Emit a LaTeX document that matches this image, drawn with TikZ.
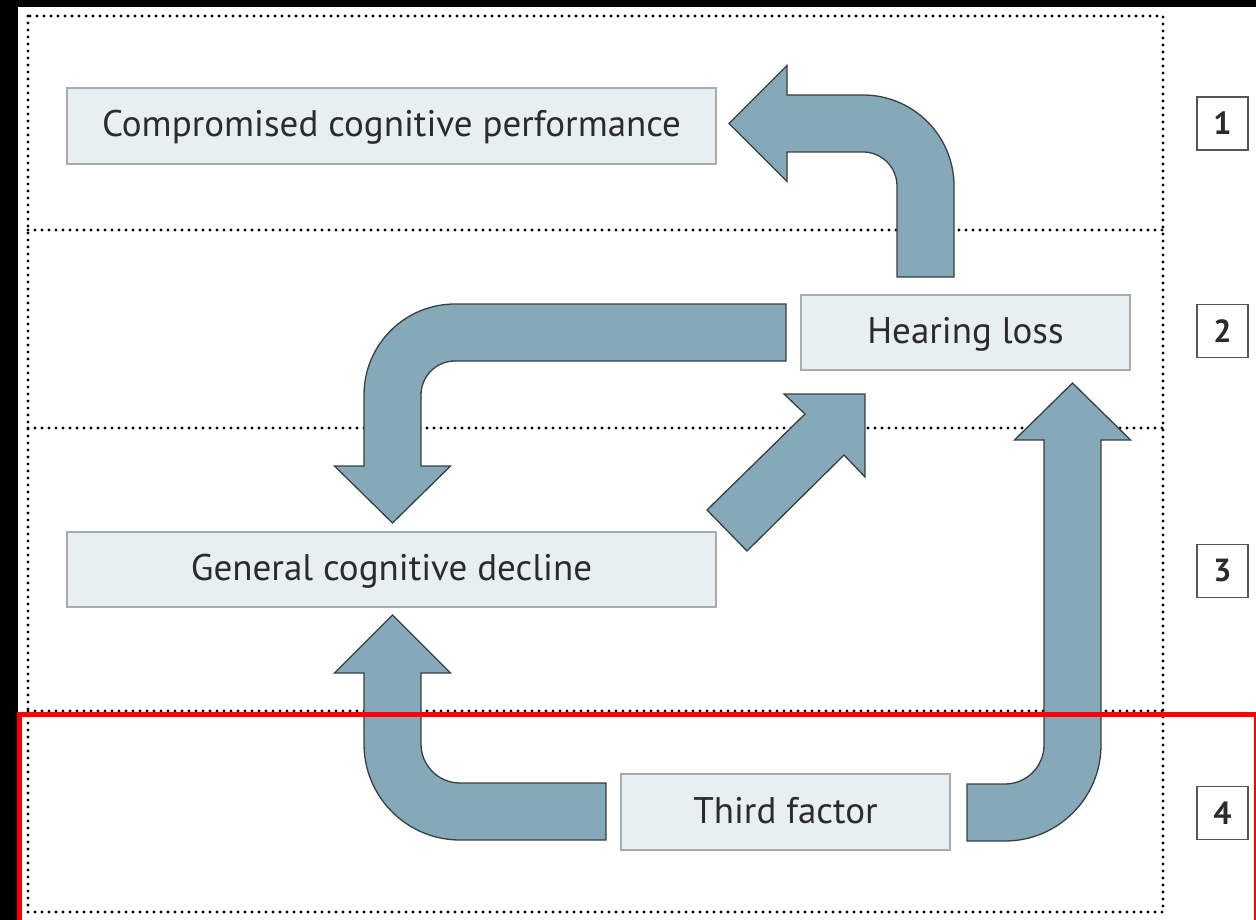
\documentclass[tikz,border=0pt]{standalone}
\usepackage{fontspec}
\setmainfont{PT Sans}
\definecolor{boxfill}{HTML}{E8EFF3}
\definecolor{boxline}{HTML}{A7ACAF}
\definecolor{arrfill}{HTML}{85A9B8}
\definecolor{arrline}{HTML}{3A3F42}
\definecolor{txt}{HTML}{2B2B2B}
\definecolor{numline}{HTML}{555555}
\begin{document}
\begin{tikzpicture}[x=1pt,y=-1pt,
  txtbox/.style={draw=boxline, fill=boxfill, line width=1.5pt, text=txt,
    font=\fontsize{37}{39}\selectfont, inner sep=0pt, text height=30pt, text depth=8pt},
  numbox/.style={draw=numline, line width=1.5pt, fill=white, text=txt,
    minimum width=51pt, minimum height=53pt, inner sep=0pt,
    font=\bfseries\fontsize{32}{34}\selectfont},
  bigarrow/.style={fill=arrfill, draw=arrline, line width=1.3pt, line join=miter},
  divider/.style={draw=black, line width=3.2pt, line cap=round, dash pattern=on 0pt off 7pt}]
\useasboundingbox (0,0) rectangle (1256,920);
\clip (0,0) rectangle (1256,920);
\fill[white] (0,0) rectangle (1256,920);
\fill[black] (0,0) rectangle (1256,7);
\fill[black] (0,0) rectangle (18,920);
% dotted frame and dividers
\draw[divider] (28,16) rectangle (1163,912);
\draw[divider] (28,230) -- (1163,230);
\draw[divider] (28,428) -- (1163,428);
\draw[divider] (28,711) -- (1163,711);
% text boxes
\node[txtbox, minimum width=649pt, minimum height=76pt] (ccp) at (391.5,126) {Compromised cognitive performance};
\node[txtbox, minimum width=329pt, minimum height=75pt] (hl) at (965.5,332.5) {Hearing loss};
\node[txtbox, minimum width=649pt, minimum height=75pt] (gcd) at (391.5,569.5) {General cognitive decline};
\node[txtbox, minimum width=329pt, minimum height=76pt] (tf) at (785.5,812) {Third factor};
% number boxes
\node[numbox] (n1) at (1222.5,123.5) {1};
\node[numbox] (n2) at (1222.5,331) {2};
\node[numbox] (n3) at (1222.5,571) {3};
\node[numbox] (n4) at (1222.5,813) {4};
% arrow: hearing loss -> compromised cognitive performance
\filldraw[bigarrow] (897,277) -- (954,277) -- (954,186)
  arc[start angle=0, end angle=-90, radius=91] -- (787,95) -- (787,65.5)
  -- (729,123.5) -- (787,181.5) -- (787,152) -- (863,152)
  arc[start angle=-90, end angle=0, radius=34] -- cycle;
% arrow: hearing loss -> general cognitive decline
\filldraw[bigarrow] (786,304) -- (455,304)
  arc[start angle=-90, end angle=-180, radius=91] -- (364,466) -- (334.5,466)
  -- (392.5,523) -- (450.5,466) -- (421,466) -- (421,395)
  arc[start angle=180, end angle=270, radius=34] -- (786,361) -- cycle;
% arrow: general cognitive decline -> hearing loss
\filldraw[bigarrow] (707,510) -- (805,414) -- (784,394) -- (865,394)
  -- (865,477) -- (844,455) -- (747,551) -- cycle;
% arrow: third factor -> general cognitive decline
\filldraw[bigarrow] (606,783) -- (460,783)
  arc[start angle=90, end angle=180, radius=39] -- (421,673) -- (450.5,673)
  -- (392.5,615) -- (334.5,673) -- (364,673) -- (364,744)
  arc[start angle=180, end angle=90, radius=96] -- (606,840) -- cycle;
% arrow: third factor -> hearing loss
\filldraw[bigarrow] (967,784) -- (1005,784)
  arc[start angle=90, end angle=0, radius=39] -- (1044,440) -- (1014.5,440)
  -- (1072.5,383) -- (1130.5,440) -- (1101,440) -- (1101,745)
  arc[start angle=0, end angle=90, radius=96] -- (967,841) -- cycle;
% red frame
\draw[red, line width=5pt] (19.5,714.5) rectangle (1256.5,930);
\end{tikzpicture}
\end{document}
